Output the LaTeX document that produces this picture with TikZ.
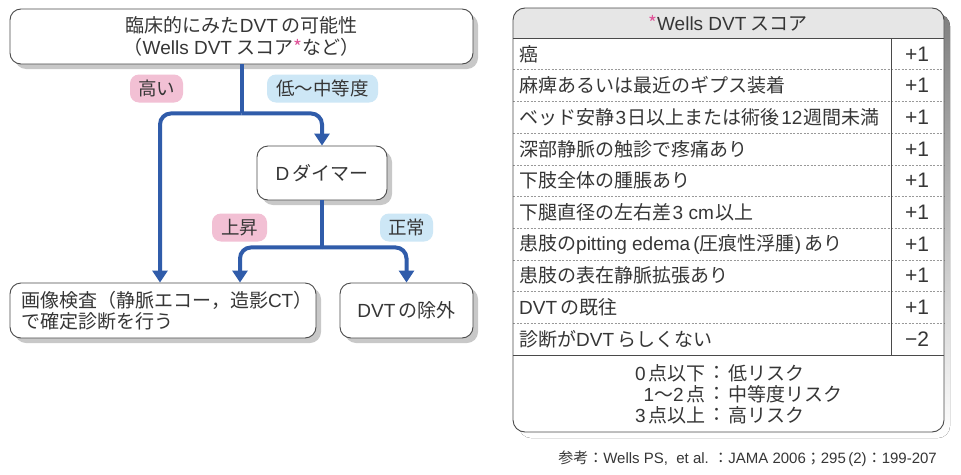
\documentclass[tikz,border=0pt]{standalone}
\usepackage{fontspec}
\setmainfont{Noto Sans CJK JP}
\newfontfamily\latfont{Liberation Sans}
\newcommand{\Lt}[1]{{\latfont #1}}
\usetikzlibrary{arrows.meta,shadows}
\definecolor{flowblue}{HTML}{305CAA}
\definecolor{labpink}{HTML}{F2C0D4}
\definecolor{labblue}{HTML}{CDE7F6}
\definecolor{astpink}{HTML}{E0559A}
\definecolor{txt}{HTML}{363636}
\definecolor{edge}{HTML}{4A4A4A}
\definecolor{shade}{HTML}{C8C8C8}
\definecolor{headgray}{HTML}{E6E6E6}
\tikzset{
  box/.style={draw=edge, line width=0.9pt, fill=white, rounded corners=11pt,
    drop shadow={shadow xshift=5pt, shadow yshift=-5pt, fill=shade, opacity=1},
    font=\fontsize{19}{21.5}\selectfont, text=txt, inner sep=0pt},
  lab/.style={rounded corners=9pt, inner sep=0pt, minimum height=28pt,
    font=\fontsize{18.5}{20}\selectfont, text=txt},
  stem/.style={flowblue, line width=4pt},
  flow/.style={flowblue, line width=4pt, rounded corners=11pt,
    -{Triangle[width=15pt,length=12pt]}},
  rowtext/.style={font=\fontsize{19}{22}\selectfont, text=txt, inner sep=0pt},
  valtext/.style={font=\fontsize{21}{22}\selectfont\latfont, text=txt, inner sep=0pt},
  rowsep/.style={draw=gray!80, line width=0.6pt, dash pattern=on 2pt off 1.5pt},
}
\begin{document}
\begin{tikzpicture}[x=1pt,y=-1pt]
\useasboundingbox[fill=white] (0,0) rectangle (961,474);

% ---- flowchart ----
\node[box, minimum width=463pt, minimum height=55pt, align=center]
  (top) at (241.5,36.5) {臨床的にみた\Lt{DVT\,}の可能性\\（\Lt{Wells DVT} スコア{\color{astpink}*}など）};
\node[box, minimum width=130pt, minimum height=54pt] (dd) at (322,173) {\Lt{D\,}ダイマー};
\node[box, minimum width=306pt, minimum height=55pt, align=left, text width=284pt, inner xsep=11pt]
  (img) at (163,310.5) {画像検査（静脈エコー，造影\Lt{CT}）\\で確定診断を行う};
\node[box, minimum width=133pt, minimum height=55pt] (excl) at (406.5,310.5) {\Lt{DVT\,}の除外};

\node[lab, fill=labpink, minimum width=53pt] (hi) at (156.5,88.5) {高い};
\node[lab, fill=labblue, minimum width=111pt] (lowmid) at (322.5,88.5) {低〜中等度};
\node[lab, fill=labpink, minimum width=55pt] (up) at (239.5,227.5) {上昇};
\node[lab, fill=labblue, minimum width=53pt] (norm) at (406.5,227.5) {正常};

\path (top.south) ++(0,49) coordinate (s1);
\draw[stem] (top.south) -- (s1);
\draw[flow] (s1) -| ([xshift=-3pt]img.north);
\draw[flow] (s1) -| (dd.north);
\path (dd.south) ++(0,47) coordinate (s2);
\draw[stem] (dd.south) -- (s2);
\draw[flow] (s2) -| ([xshift=77pt]img.north);
\draw[flow] (s2) -| (excl.north);

% ---- table ----
\fill[shade, rounded corners=12pt] (519,14) rectangle (950,438);
\fill[white, rounded corners=12pt] (513,8) rectangle (944,432);
\begin{scope}
  \clip[rounded corners=12pt] (513,8) rectangle (944,432);
  \fill[headgray] (513,8) rectangle (944,38);
\end{scope}
\foreach \k in {1,...,9}{
  \draw[rowsep] (513,{38+31.7*\k}) -- (944,{38+31.7*\k});
}
\draw[edge, line width=0.9pt] (513,38) -- (944,38);
\draw[edge, line width=0.9pt] (513,355) -- (944,355);
\draw[edge, line width=0.9pt] (891,38) -- (891,355);
\draw[edge, line width=0.9pt, rounded corners=12pt] (513,8) rectangle (944,432);

\node[rowtext] (head) at (728,23) {{\color{astpink}*}\Lt{Wells DVT} スコア};

\foreach \t/\v [count=\i from 0] in {
  癌/+1,
  麻痺あるいは最近のギプス装着/+1,
  ベッド安静\Lt{\hspace{1.5pt}3\hspace{1.5pt}}日以上または術後\Lt{\hspace{1.5pt}12\hspace{1.5pt}}週間未満/+1,
  深部静脈の触診で疼痛あり/+1,
  下肢全体の腫脹あり/+1,
  下腿直径の左右差\Lt{\hspace{1.5pt}3 cm\hspace{1.5pt}}以上/+1,
  患肢の\Lt{pitting edema\,(}圧痕性浮腫\Lt{)\,}あり/+1,
  患肢の表在静脈拡張あり/+1,
  \Lt{DVT\,}の既往/+1,
  診断が\Lt{DVT\,}らしくない/−2}{
  \node[rowtext, anchor=west] (r\i) at (519,{53.85+31.7*\i}) {\t};
  \node[valtext] (v\i) at (917,{53.85+31.7*\i}) {\v};
}

\foreach \a/\b [count=\i from 0] in {\Lt{0\,}点以下/低リスク, \Lt{1}〜\Lt{2\,}点/中等度リスク, \Lt{3\,}点以上/高リスク}{
  \node[rowtext, anchor=east] (rl\i) at (706,{373+21*\i}) {\a};
  \node[rowtext] (rc\i) at (717,{373+21*\i}) {：};
  \node[rowtext, anchor=west] (rr\i) at (728,{373+21*\i}) {\b};
}

\node[font=\fontsize{15}{16}\selectfont, text=txt, inner sep=0pt, anchor=east] (ref) at (937,459)
  {参考：\Lt{Wells PS,\ \ et al.} ：\Lt{JAMA 2006}；\Lt{295\,(2)}：\Lt{199-207}};
\end{tikzpicture}
\end{document}
